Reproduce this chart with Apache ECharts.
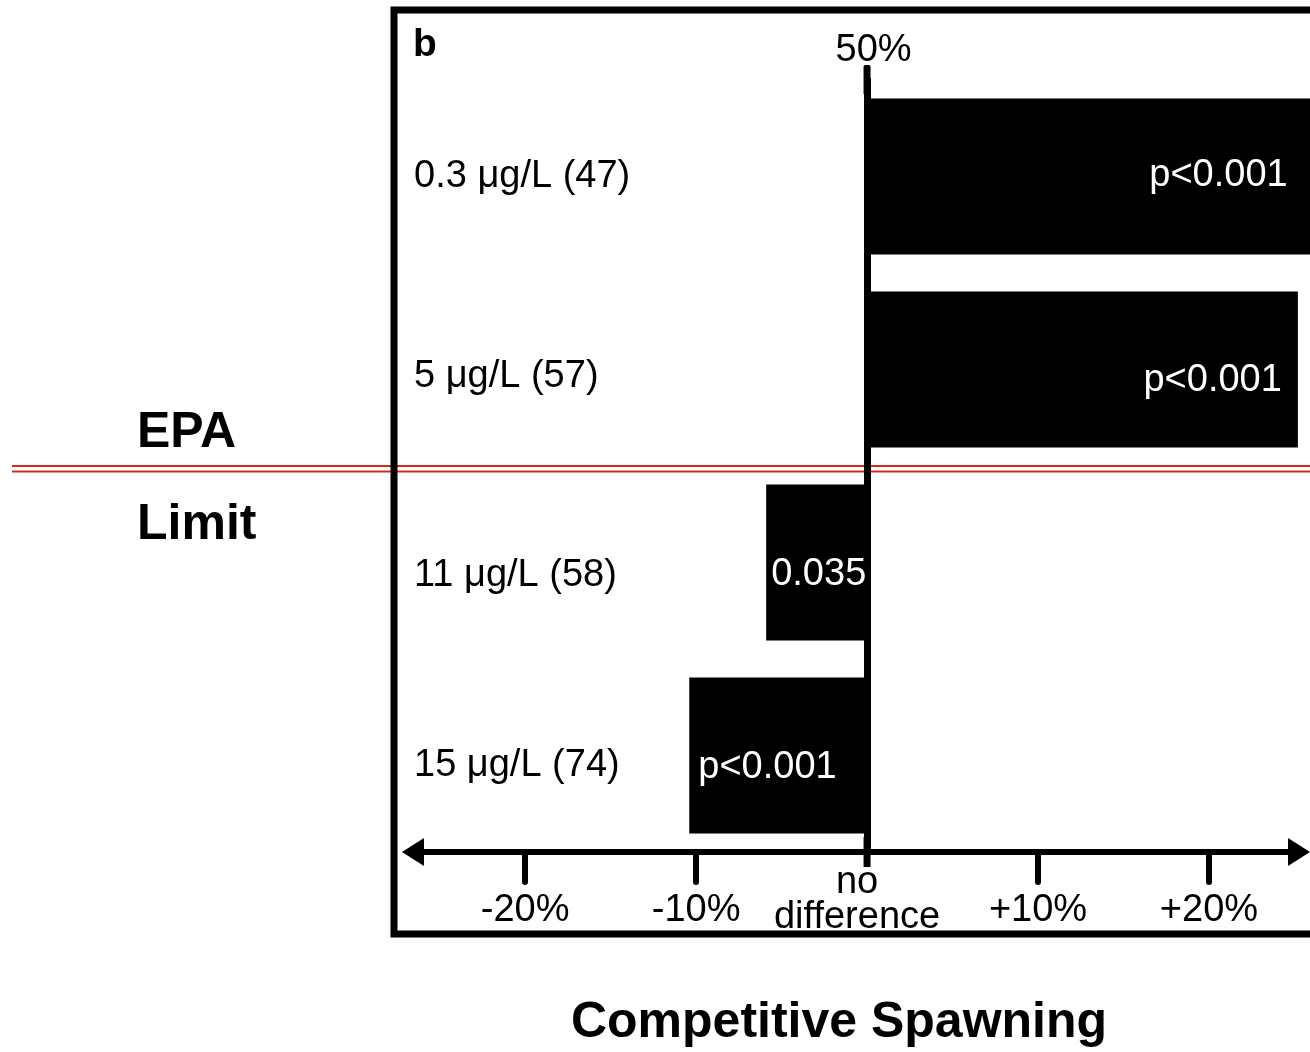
<!DOCTYPE html>
<html>
<head>
<meta charset="utf-8">
<script src="https://cdn.jsdelivr.net/npm/echarts@6/dist/echarts.min.js"></script>
<style>
  html, body { margin: 0; padding: 0; background: #fff; }
  #chart { width: 1310px; height: 1052px; }
</style>
</head>
<body>
<div id="chart"></div>
<script>
// ---- data (top-to-bottom reading order) ----
const categories = ['0.3 μg/L (47)', '5 μg/L (57)', '11 μg/L (58)', '15 μg/L (74)'];
const values = [26.3, 25.2, -5.9, -10.4];          // % difference from 50%
const pLabels = ['p<0.001', 'p<0.001', '0.035', 'p<0.001'];
const tickValues = [-20, -10, 10, 20];
const tickLabels = ['-20%', '-10%', '+10%', '+20%'];
const zeroLabel = 'no\ndifference';
const zeroName = '50%';
const xTitle = 'Competitive Spawning';
const epaText = ['EPA', 'Limit'];
const panelLetter = 'b';
const epaBetween = [1, 2];   // EPA limit sits between these category indices

// ---- styling helpers ----
const FONT = 'Liberation Sans, Arial, sans-serif';
const labelPlace = [
  { position: 'insideRight', distance: 29, offset: [0, -1] },
  { position: 'insideRight', distance: 16, offset: [0, 11] },
  { position: 'insideLeft', distance: 5, offset: [0, 12] },
  { position: 'insideLeft', distance: 9, offset: [0, 12] }
];
const catShift = [0, 7, 13, 10];

// ECharts draws category 0 at bottom, so reverse for plotting
const catsPlot = categories.slice().reverse();
const dataPlot = values.map((v, i) => ({
  value: v,
  label: Object.assign({ formatter: pLabels[i] }, labelPlace[i])
})).reverse();
const shiftPlot = catShift.slice().reverse();

const rich = {};
shiftPlot.forEach((s, i) => {
  rich['c' + i] = {
    fontSize: 38, fontFamily: FONT, color: '#000',
    padding: s >= 0 ? [2 * s, 0, 0, 0] : [0, 0, -2 * s, 0]
  };
});

const chart = echarts.init(document.getElementById('chart'), null, { renderer: 'canvas' });

const option = {
  backgroundColor: '#fff',
  animation: false,
  grid: { left: 414, right: 7, top: 80, bottom: 200, containLabel: false },
  xAxis: [
    {
      type: 'value', min: -26.5, max: 25.5, position: 'bottom',
      axisLine: {
        show: true, onZero: false,
        symbol: ['triangle', 'triangle'], symbolSize: [28, 22], symbolOffset: [-1, -4],
        lineStyle: { color: '#000', width: 6 }
      },
      axisTick: {
        show: true, customValues: tickValues, length: 30, inside: false,
        lineStyle: { color: '#000', width: 6, cap: 'round' }
      },
      axisLabel: {
        show: true, customValues: tickValues, margin: 40,
        fontSize: 38, fontFamily: FONT, color: '#000',
        formatter: v => tickLabels[tickValues.indexOf(v)]
      },
      splitLine: { show: false }
    },
    {
      type: 'value', min: -26.5, max: 25.5, position: 'bottom',
      axisLine: { show: false },
      axisTick: { show: false },
      axisLabel: {
        show: true, customValues: [0], margin: 13,
        fontSize: 38, lineHeight: 35, fontFamily: FONT, color: '#000',
        padding: [0, 20, 0, 0],
        formatter: () => zeroLabel
      },
      splitLine: { show: false }
    }
  ],
  yAxis: [
    {
      type: 'category', data: catsPlot,
      name: zeroName, nameLocation: 'end', nameGap: 10,
      nameTextStyle: { fontSize: 38, fontFamily: FONT, color: '#000', padding: [0, 0, 0, 13] },
      axisLine: {
        show: true, onZero: true,
        symbol: ['rect', 'roundRect'], symbolSize: [7, 30],
        lineStyle: { color: '#000', width: 7 }
      },
      axisTick: { show: false },
      axisLabel: { show: false },
      splitLine: { show: false }
    },
    {
      type: 'category', data: catsPlot, position: 'left',
      axisLine: { show: false, onZero: false },
      axisTick: { show: false },
      axisLabel: {
        show: true, inside: true, margin: 0, align: 'left',
        formatter: (v, idx) => '{c' + idx + '|' + v + '}',
        rich: rich
      },
      splitLine: { show: false }
    }
  ],
  series: [
    {
      type: 'bar', xAxisIndex: 0, yAxisIndex: 0,
      data: dataPlot, barWidth: 156, clip: false,
      itemStyle: { color: '#000' },
      label: { show: true, color: '#fff', fontSize: 38, fontFamily: FONT },
      z: 1
    }
  ]
};
chart.setOption(option);

// EPA limit: placed between two categories using the axis scale
const yA = chart.convertToPixel({ yAxisIndex: 0 }, catsPlot[catsPlot.length - 1 - epaBetween[0]]);
const yB = chart.convertToPixel({ yAxisIndex: 0 }, catsPlot[catsPlot.length - 1 - epaBetween[1]]);
const yEpa = (yA + yB) / 2;

chart.setOption({
  graphic: [
    { type: 'line', z: -5, shape: { x1: 12, y1: yEpa, x2: 1320, y2: yEpa },
      style: { stroke: '#d8281e', lineWidth: 2.2 } },
    { type: 'line', z: -5, shape: { x1: 12, y1: yEpa + 5.5, x2: 1320, y2: yEpa + 5.5 },
      style: { stroke: '#d8281e', lineWidth: 2.2 } },
    { type: 'rect', z: 50, shape: { x: 394, y: 10, width: 1000, height: 924 },
      style: { fill: null, stroke: '#000', lineWidth: 7 } },
    { type: 'text', z: 50, x: 413, y: 45,
      style: { text: panelLetter, font: 'bold 39px ' + FONT, fill: '#000', textVerticalAlign: 'middle' } },
    { type: 'text', z: 50, x: 137, y: 433,
      style: { text: epaText[0], font: 'bold 50px ' + FONT, fill: '#000', textVerticalAlign: 'middle' } },
    { type: 'text', z: 50, x: 137, y: 525,
      style: { text: epaText[1], font: 'bold 50px ' + FONT, fill: '#000', textVerticalAlign: 'middle' } },
    { type: 'text', z: 50, x: 839, y: 1023,
      style: { text: xTitle, font: 'bold 50px ' + FONT, fill: '#000', textAlign: 'center', textVerticalAlign: 'middle' } }
  ]
});
</script>
</body>
</html>
